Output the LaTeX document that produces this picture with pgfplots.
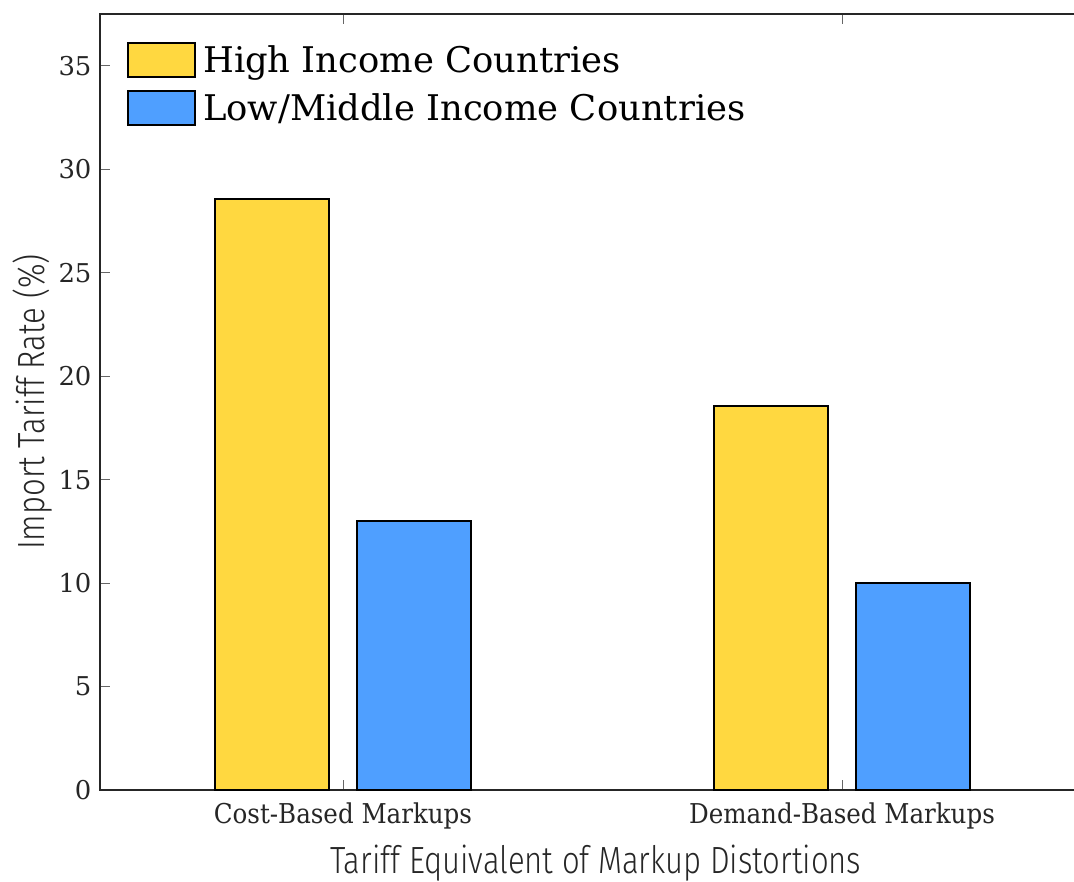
\documentclass[border=0pt]{standalone}
\usepackage{fontspec}
\setmainfont{DejaVu Serif}
\newfontfamily\condserif{DejaVu Serif Condensed}
\newfontfamily\lightsans{Fira Sans Light}[FakeStretch=0.82]
\usepackage{pgfplots}
\pgfplotsset{compat=1.18}
\definecolor{hiyel}{RGB}{255,216,64}
\definecolor{loblue}{RGB}{79,159,255}
\definecolor{axgray}{RGB}{38,38,38}
\begin{document}
\begin{tikzpicture}
\begin{axis}[
  scale only axis, width=991.5bp, height=776bp,
  xmin=0.513, xmax=2.5, ymin=0, ymax=37.5,
  ytick={0,5,...,35},
  xtick={1,2}, xticklabels={Cost-Based Markups, Demand-Based Markups},
  tick align=inside, major tick length=10bp,
  tick style={draw=gray!80!black, line width=1bp},
  axis line style={draw=axgray, line width=1.5bp},
  /pgf/number format/assume math mode=true,
  yticklabel style={font=\fontsize{26}{26}\selectfont, text=axgray, xshift=-5bp},
  xticklabel style={font=\condserif\fontsize{27.4}{27.4}\selectfont, text=axgray, yshift=-9bp},
  xlabel={Tariff Equivalent of Markup Distortions},
  ylabel={Import Tariff Rate (\%)},
  xlabel style={font=\lightsans\fontsize{38}{38}\selectfont, text=axgray, yshift=-9bp},
  ylabel style={font=\lightsans\fontsize{38}{38}\selectfont, text=axgray, yshift=-1bp},
  legend cell align=left,
  legend style={draw=none, fill=none, at={(rel axis cs:0,1)}, anchor=north west,
    xshift=24bp, yshift=-26bp, font=\fontsize{35.5}{35.5}\selectfont, row sep=12bp,
    nodes={inner sep=2bp}},
  legend image code/.code={\draw[#1, line width=2bp] (0bp,-17bp) rectangle (67bp,17bp); \path (72bp,0bp);},
]
\addplot[ybar, bar width=114bp, bar shift=-71bp, fill=hiyel, draw=black, line width=2bp]
  coordinates {(1,28.55) (2,18.55)};
\addlegendentry{High Income Countries}
\addplot[ybar, bar width=114bp, bar shift=71bp, fill=loblue, draw=black, line width=2bp]
  coordinates {(1,13.0) (2,10.0)};
\addlegendentry{Low/Middle Income Countries}
\end{axis}
\pgfresetboundingbox
\path ([xshift=-100bp,yshift=-92bp]current axis.south west) rectangle ([xshift=974bp,yshift=790bp]current axis.south west);
\end{tikzpicture}
\end{document}
